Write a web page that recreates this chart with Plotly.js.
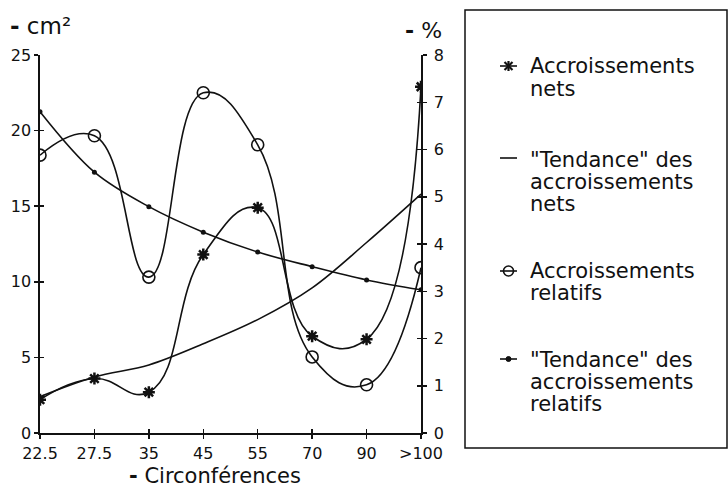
<!DOCTYPE html>
<html>
<head>
<meta charset="utf-8">
<script src="https://cdn.plot.ly/plotly-3.0.1.min.js"></script>
<style>html,body{margin:0;padding:0;background:#fff;}#chart{width:728px;height:487px;}</style>
</head>
<body>
<div id="chart"></div>
<script>
// Categories (circumference classes)
const categories = ["22.5", "27.5", "35", "45", "55", "70", "90", ">100"];
// Net increments, cm² (left axis)
const netIncrements = [2.2, 3.6, 2.7, 11.8, 14.9, 6.4, 6.2, 22.9];
// Trend of net increments, cm² (left axis)
const netTrend = [2.4, 3.7, 4.5, 5.9, 7.5, 9.6, 12.6, 15.8];
// Relative increments, % (right axis)
const relIncrements = [5.88, 6.29, 3.3, 7.2, 6.1, 1.61, 1.02, 3.5];
// Trend of relative increments, % (right axis)
const relTrend = [6.8, 5.52, 4.79, 4.25, 3.83, 3.52, 3.24, 3.03];

const leftTicks = [0, 5, 10, 15, 20, 25];
const rightTicks = [0, 1, 2, 3, 4, 5, 6, 7, 8];

// Legend texts (one entry per series, one string per line)
const legendNames = [
  ["Accroissements", "nets"],
  ["\"Tendance\" des", "accroissements", "nets"],
  ["Accroissements", "relatifs"],
  ["\"Tendance\" des", "accroissements", "relatifs"]
];

const FONT = "DejaVu Sans, Verdana, sans-serif";
const black = "#111";

// layout geometry
const W = 728, H = 487;
const M = {l: 40, r: 307, t: 55, b: 54};
const PW = W - M.l - M.r, PH = H - M.t - M.b;
const px = x => (x - M.l) / PW;       // pixel -> paper x
const py = y => (H - M.b - y) / PH;   // pixel -> paper y

const traces = [
  {
    x: categories, y: netIncrements, yaxis: "y", name: legendNames[0].join(" "),
    mode: "lines+markers", type: "scatter",
    line: {shape: "spline", smoothing: 1.3, color: black, width: 1.6},
    marker: {symbol: "asterisk-open", size: 10, color: black, line: {width: 2.5, color: black}}
  },
  {
    x: categories, y: netTrend, yaxis: "y", name: legendNames[1].join(" "),
    mode: "lines", type: "scatter",
    line: {shape: "spline", smoothing: 1, color: black, width: 1.6}
  },
  {
    x: categories, y: relIncrements, yaxis: "y2", name: legendNames[2].join(" "),
    mode: "lines+markers", type: "scatter",
    line: {shape: "spline", smoothing: 1.3, color: black, width: 1.6},
    marker: {symbol: "circle-open", size: 12, color: black, line: {width: 1.6, color: black}}
  },
  {
    x: categories, y: relTrend, yaxis: "y2", name: legendNames[3].join(" "),
    mode: "lines+markers", type: "scatter",
    line: {shape: "spline", smoothing: 1, color: black, width: 1.6},
    marker: {symbol: "circle", size: 5, color: black}
  },
  // empty helper traces so the inner-tick overlay axes are drawn (crossing tick marks)
  {x: [], y: [], xaxis: "x2", yaxis: "y3", type: "scatter", mode: "markers", showlegend: false, hoverinfo: "skip"},
  {x: [], y: [], xaxis: "x", yaxis: "y4", type: "scatter", mode: "markers", showlegend: false, hoverinfo: "skip"}
];

// Legend: text lines as annotations, keys as small shapes
const legendLineY = [[66, 89], [160, 182, 204], [271, 293], [360, 382, 404]];
const keyY = [66, 158, 271, 359];
const annotations = [];
legendNames.forEach((lines, i) => {
  lines.forEach((t, j) => {
    annotations.push({text: t, xref: "paper", yref: "paper", x: px(528), y: py(legendLineY[i][j]),
      xanchor: "left", yanchor: "middle", showarrow: false,
      font: {family: FONT, size: 21, color: black}});
  });
});
const shapes = [
  {type: "rect", xref: "paper", yref: "paper", x0: px(465), x1: px(727), y0: py(448), y1: py(10),
   line: {color: black, width: 1.5}, fillcolor: "rgba(0,0,0,0)"}
];
const kx0 = 500, kx1 = 517, kc = 508.5;
keyY.forEach(y => shapes.push({type: "line", xref: "paper", yref: "paper",
  x0: px(kx0), x1: px(kx1), y0: py(y), y1: py(y), line: {color: black, width: 1.6}}));
// asterisk key
[[0, -5], [4, -4], [4, 4]].forEach(([dx, dy]) => shapes.push({type: "line", xref: "paper", yref: "paper",
  x0: px(kc - dx), x1: px(kc + dx), y0: py(keyY[0] - dy), y1: py(keyY[0] + dy), line: {color: black, width: 2.2}}));
// open circle key
shapes.push({type: "circle", xref: "paper", yref: "paper", x0: px(kc - 5), x1: px(kc + 5),
  y0: py(keyY[2] + 5), y1: py(keyY[2] - 5), line: {color: black, width: 1.6}, fillcolor: "rgba(0,0,0,0)"});
// dot key
shapes.push({type: "circle", xref: "paper", yref: "paper", x0: px(kc - 2.5), x1: px(kc + 2.5),
  y0: py(keyY[3] + 2.5), y1: py(keyY[3] - 2.5), line: {color: black, width: 1}, fillcolor: black});

// axis unit labels
annotations.push(
  {text: "<b>-</b> cm²", xref: "paper", yref: "paper", x: px(8), y: py(26),
   xanchor: "left", yanchor: "middle", showarrow: false, font: {family: FONT, size: 23, color: black}},
  {text: "<b>-</b> %", xref: "paper", yref: "paper", x: px(403), y: py(30),
   xanchor: "left", yanchor: "middle", showarrow: false, font: {family: FONT, size: 22, color: black}},
  {text: "<b>-</b> Circonférences", xref: "paper", yref: "paper", x: px(127), y: py(490),
   xanchor: "left", yanchor: "bottom", showarrow: false, font: {family: FONT, size: 21, color: black}}
);

const axisCommon = {
  showgrid: false, zeroline: false, showline: true, linecolor: black, linewidth: 1.6,
  ticks: "outside", ticklen: 4, tickwidth: 1.5, tickcolor: black,
  tickfont: {family: FONT, size: 16, color: black}
};
const innerTicks = {
  showgrid: false, zeroline: false, showline: false, showticklabels: false,
  ticks: "inside", ticklen: 4, tickwidth: 1.5, tickcolor: black
};

const layout = {
  width: W, height: H, margin: M,
  paper_bgcolor: "#fff", plot_bgcolor: "#fff",
  font: {family: FONT, size: 16, color: black},
  showlegend: false,
  xaxis: Object.assign({type: "category", categoryorder: "array", categoryarray: categories,
    range: [0, 7], ticklabelstandoff: 1}, axisCommon),
  xaxis2: Object.assign({type: "linear", range: [0, 7], tickvals: categories.map((c, i) => i),
    overlaying: "x", anchor: "y", side: "bottom"}, innerTicks),
  yaxis: Object.assign({range: [0, 25], tickvals: leftTicks, ticklabelstandoff: 0}, axisCommon),
  yaxis3: Object.assign({range: [0, 25], tickvals: leftTicks, overlaying: "y", anchor: "x", side: "left"}, innerTicks),
  yaxis2: Object.assign({range: [0, 8], tickvals: rightTicks, overlaying: "y", side: "right", anchor: "x",
    ticklabelstandoff: 4}, axisCommon),
  yaxis4: Object.assign({range: [0, 8], tickvals: rightTicks, overlaying: "y", anchor: "x", side: "right"}, innerTicks),
  shapes: shapes,
  annotations: annotations
};

Plotly.newPlot("chart", traces, layout, {displayModeBar: false, staticPlot: true});
</script>
</body>
</html>
